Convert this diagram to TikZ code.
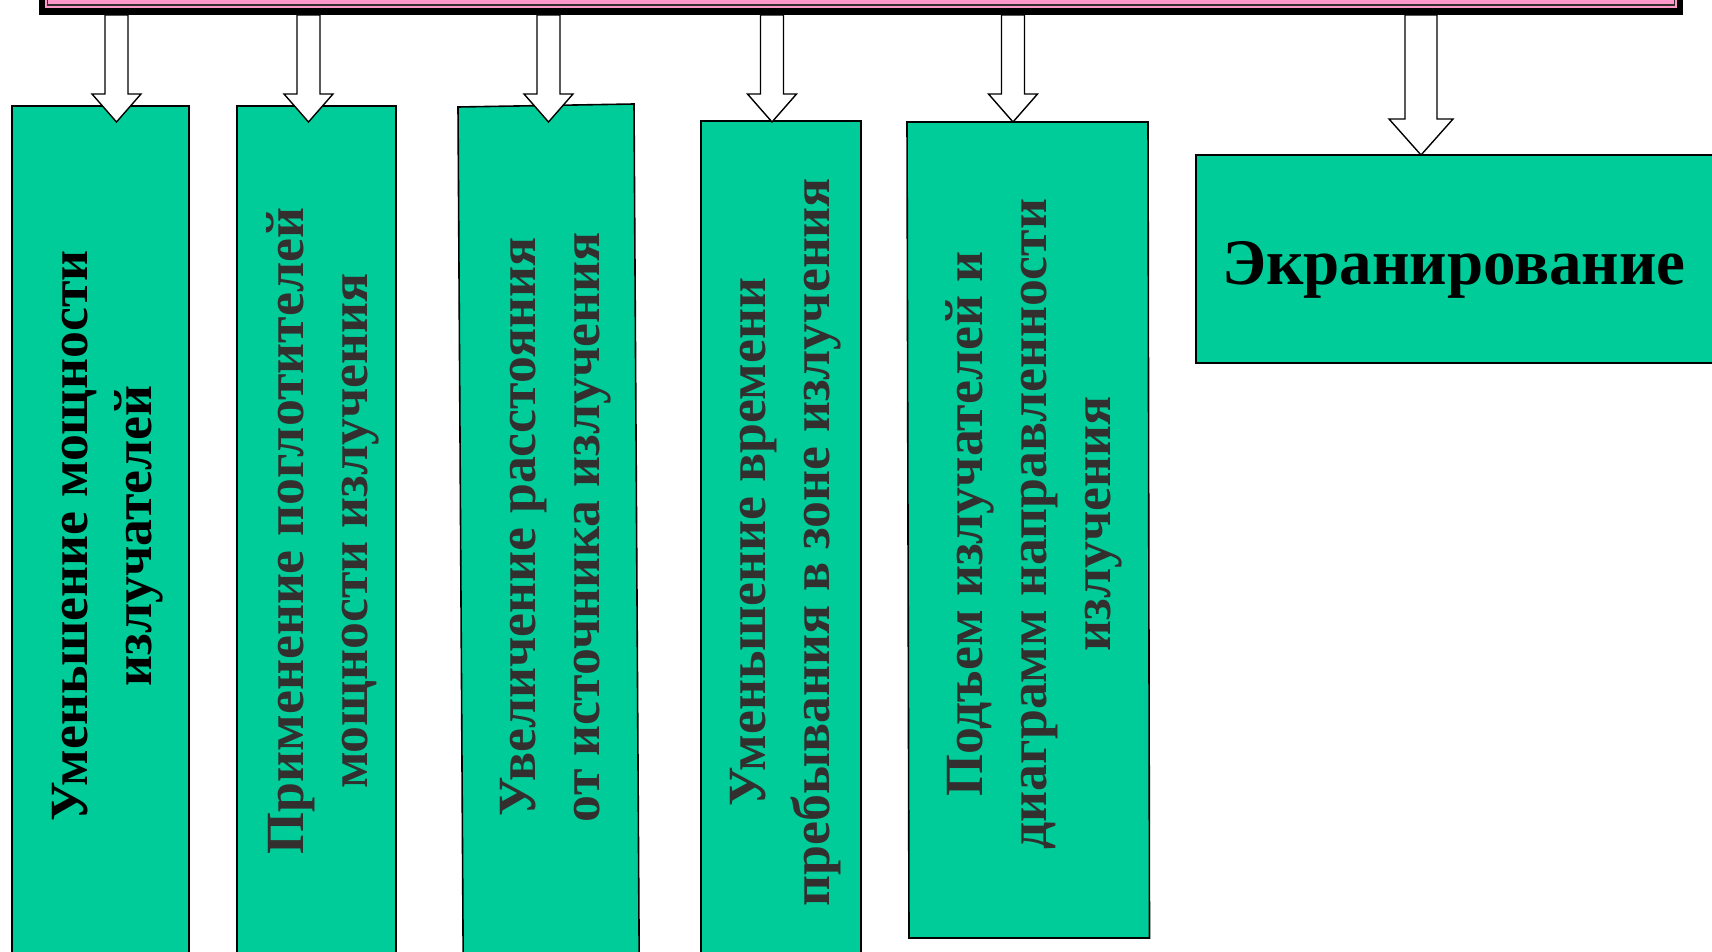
\documentclass[tikz,border=0pt]{standalone}
\usepackage{fontspec}
\setmainfont{Liberation Serif}
\usetikzlibrary{calc}
\definecolor{boxgreen}{RGB}{0,204,153}
\definecolor{barpink}{RGB}{255,153,204}
\definecolor{txtgray}{RGB}{51,47,47}
\tikzset{
  greenbox/.style={fill=boxgreen, draw=black, line width=1.6pt, inner sep=0pt, outer sep=0pt},
  blockarr/.style={fill=white, draw=black, line width=1.4pt, line join=miter},
  vlabel/.style={rotate=90, align=center, inner sep=0pt, font=\bfseries\fontsize{53.8}{64}\selectfont},
  hlabel/.style={inner sep=0pt, font=\bfseries\fontsize{65}{75}\selectfont},
}
\newcommand{\blockarrow}[5]{%
  \draw[blockarr] let \p1=(#1), \p2=(#2.south) in
    (\p1) -- (\x1-#4pt,\y1+#5pt) -- (\x1-#3pt,\y1+#5pt) -- (\x1-#3pt,\y2)
    -- (\x1+#3pt,\y2) -- (\x1+#3pt,\y1+#5pt) -- (\x1+#4pt,\y1+#5pt) -- cycle;
}
\begin{document}
\begin{tikzpicture}[x=1pt,y=-1pt]
\useasboundingbox (0,0) rectangle (1712,952);
\fill[white] (0,0) rectangle (1712,952);
% boxes
\node[greenbox, anchor=north west, minimum width=177pt, minimum height=860pt] (b1) at (12,106) {};
\node[greenbox, anchor=north west, minimum width=159pt, minimum height=860pt] (b2) at (237,106) {};
\draw[greenbox] (458,107) -- (634,104) -- (639.2,962) -- (463.2,962) -- cycle;
\node[greenbox, anchor=north west, minimum width=160pt, minimum height=850pt] (b4) at (701,121) {};
\draw[greenbox] (907,122) -- (1148,122) -- (1149.5,938) -- (909,938) -- cycle;
\node[greenbox, anchor=north west, minimum width=540pt, minimum height=208pt] (b6) at (1196,155) {};
% labels
\node[vlabel] (l1) at (108,536) {Уменьшение мощности\\излучателей};
\node[vlabel, text=txtgray] (l2) at (323,531) {Применение поглотителей\\мощности излучения};
\node[vlabel, text=txtgray] (l3) at (556,527) {Увеличение расстояния\\от источника излучения};
\node[vlabel, text=txtgray] (l4) at (786,542) {Уменьшение времени\\пребывания в зоне излучения};
\node[vlabel, text=txtgray] (l5) at (1034,524) {Подъем излучателей и\\диаграмм направленности\\излучения};
\node[hlabel] (l6) at (1454,270) {Экранирование};
% top bar
\node[fill=black, inner sep=0pt, outer sep=0pt, anchor=south west, minimum width=1644pt, minimum height=60pt] (bar) at (39,15) {};
% arrows
\coordinate (t1) at (116.5,122);
\coordinate (t2) at (308.5,122);
\coordinate (t3) at (548.5,122);
\coordinate (t4) at (772,122);
\coordinate (t5) at (1013,122);
\coordinate (t6) at (1421,155);
\blockarrow{t1}{bar}{11.5}{24.5}{28}
\blockarrow{t2}{bar}{11.5}{24.5}{28}
\blockarrow{t3}{bar}{11.5}{24.5}{28}
\blockarrow{t4}{bar}{11.5}{24.5}{28}
\blockarrow{t5}{bar}{11.5}{24.5}{28}
\blockarrow{t6}{bar}{16}{32}{36}
% bar drawn over arrow tops
\fill[black] (bar.south west) rectangle (bar.north east);
\fill[barpink] ($(bar.south west)+(6pt,7pt)$) rectangle ($(bar.north east)+(-6pt,0pt)$);
\draw[txtgray, line width=1.5pt] ($(bar.south west)+(8.5pt,10pt)$) rectangle ($(bar.north east)+(-8.5pt,5pt)$);
\end{tikzpicture}
\end{document}
